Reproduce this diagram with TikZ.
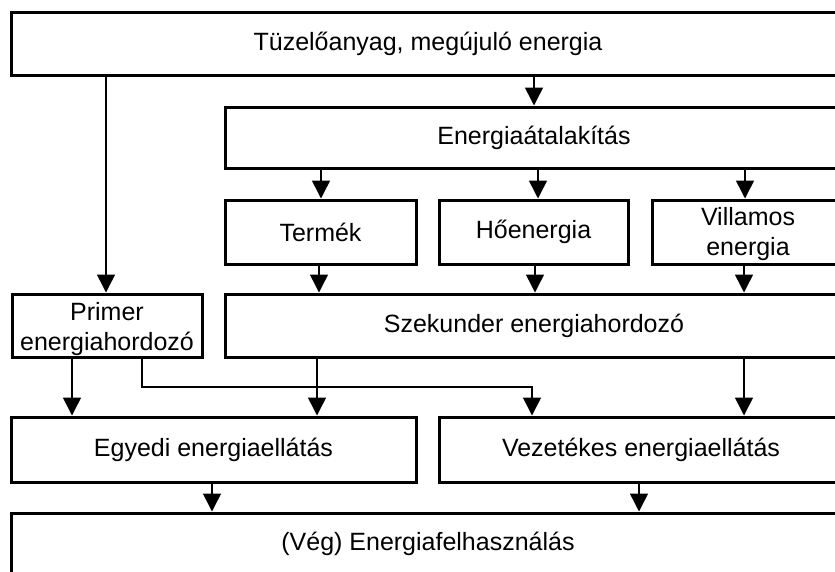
\documentclass[tikz,border=0pt]{standalone}
\usepackage{fontspec}
\setmainfont{Liberation Sans}
\usetikzlibrary{arrows.meta}
\newcommand{\twoline}[3]{\raisebox{-#1}[\height][\depth]{\begin{tabular}{@{}c@{}}#2\\#3\end{tabular}}}
\tikzset{
  box/.style={draw=black, line width=3pt, fill=white, inner sep=0pt, align=center,
    font=\fontsize{25}{30}\selectfont},
  arr/.style={line width=1.5pt, -{Triangle[length=18pt,width=18pt]}},
}
\begin{document}
\begin{tikzpicture}[x=1pt,y=-1pt]
\useasboundingbox (0,0) rectangle (835,571);
\fill[white] (0,0) rectangle (835,571);
\clip (0,0) rectangle (835,571);
\renewcommand{\arraystretch}{1}
\setlength{\tabcolsep}{0pt}
\node[box, minimum width=834pt, minimum height=63pt] (top) at (428,43.5) {Tüzelőanyag, megújuló energia};
\node[box, minimum width=618pt, minimum height=61pt] (ener) at (534,137.5) {Energiaátalakítás};
\node[box, minimum width=191pt, minimum height=64pt] (termek) at (320.5,232) {Termék};
\node[box, minimum width=189pt, minimum height=64pt] (ho) at (533.5,232) {Hőenergia};
\node[box, minimum width=192pt, minimum height=64pt] (vill) at (748,232) {\twoline{2pt}{Villamos}{energia}};
\node[box, minimum width=190pt, minimum height=63pt] (primer) at (107,325.5) {\twoline{4pt}{Primer}{energiahordozó}};
\node[box, minimum width=618pt, minimum height=63pt] (szek) at (534,325.5) {Szekunder energiahordozó};
\node[box, minimum width=405pt, minimum height=65pt] (egyedi) at (213.5,449.5) {Egyedi energiaellátás};
\node[box, minimum width=404pt, minimum height=65pt] (vezet) at (641,449.5) {Vezetékes energiaellátás};
\node[box, minimum width=834pt, minimum height=61pt] (final) at (428,543.5) {(Vég) Energiafelhasználás};

\draw[arr] (top.south -| 106,0) -- (primer.north -| 106,0);
\draw[arr] (top.south -| 534,0) -- (ener.north -| 534,0);
\draw[arr] (ener.south -| 321,0) -- (termek.north -| 321,0);
\draw[arr] (ener.south -| 538,0) -- (ho.north -| 538,0);
\draw[arr] (ener.south -| 745,0) -- (vill.north -| 745,0);
\draw[arr] (termek.south -| 319,0) -- (szek.north -| 319,0);
\draw[arr] (ho.south -| 535,0) -- (szek.north -| 535,0);
\draw[arr] (vill.south -| 744,0) -- (szek.north -| 744,0);
\draw[arr] (primer.south -| 72,0) -- (egyedi.north -| 72,0);
\coordinate (bend) at (142,387);
\draw[arr] (primer.south -| bend) -- (bend) -- (532,387) -- (vezet.north -| 532,0);
\draw[arr] (szek.south -| 317,0) -- (egyedi.north -| 317,0);
\draw[arr] (szek.south -| 744,0) -- (vezet.north -| 744,0);
\draw[arr] (egyedi.south -| 212,0) -- (final.north -| 212,0);
\draw[arr] (vezet.south -| 639,0) -- (final.north -| 639,0);
\end{tikzpicture}
\end{document}
